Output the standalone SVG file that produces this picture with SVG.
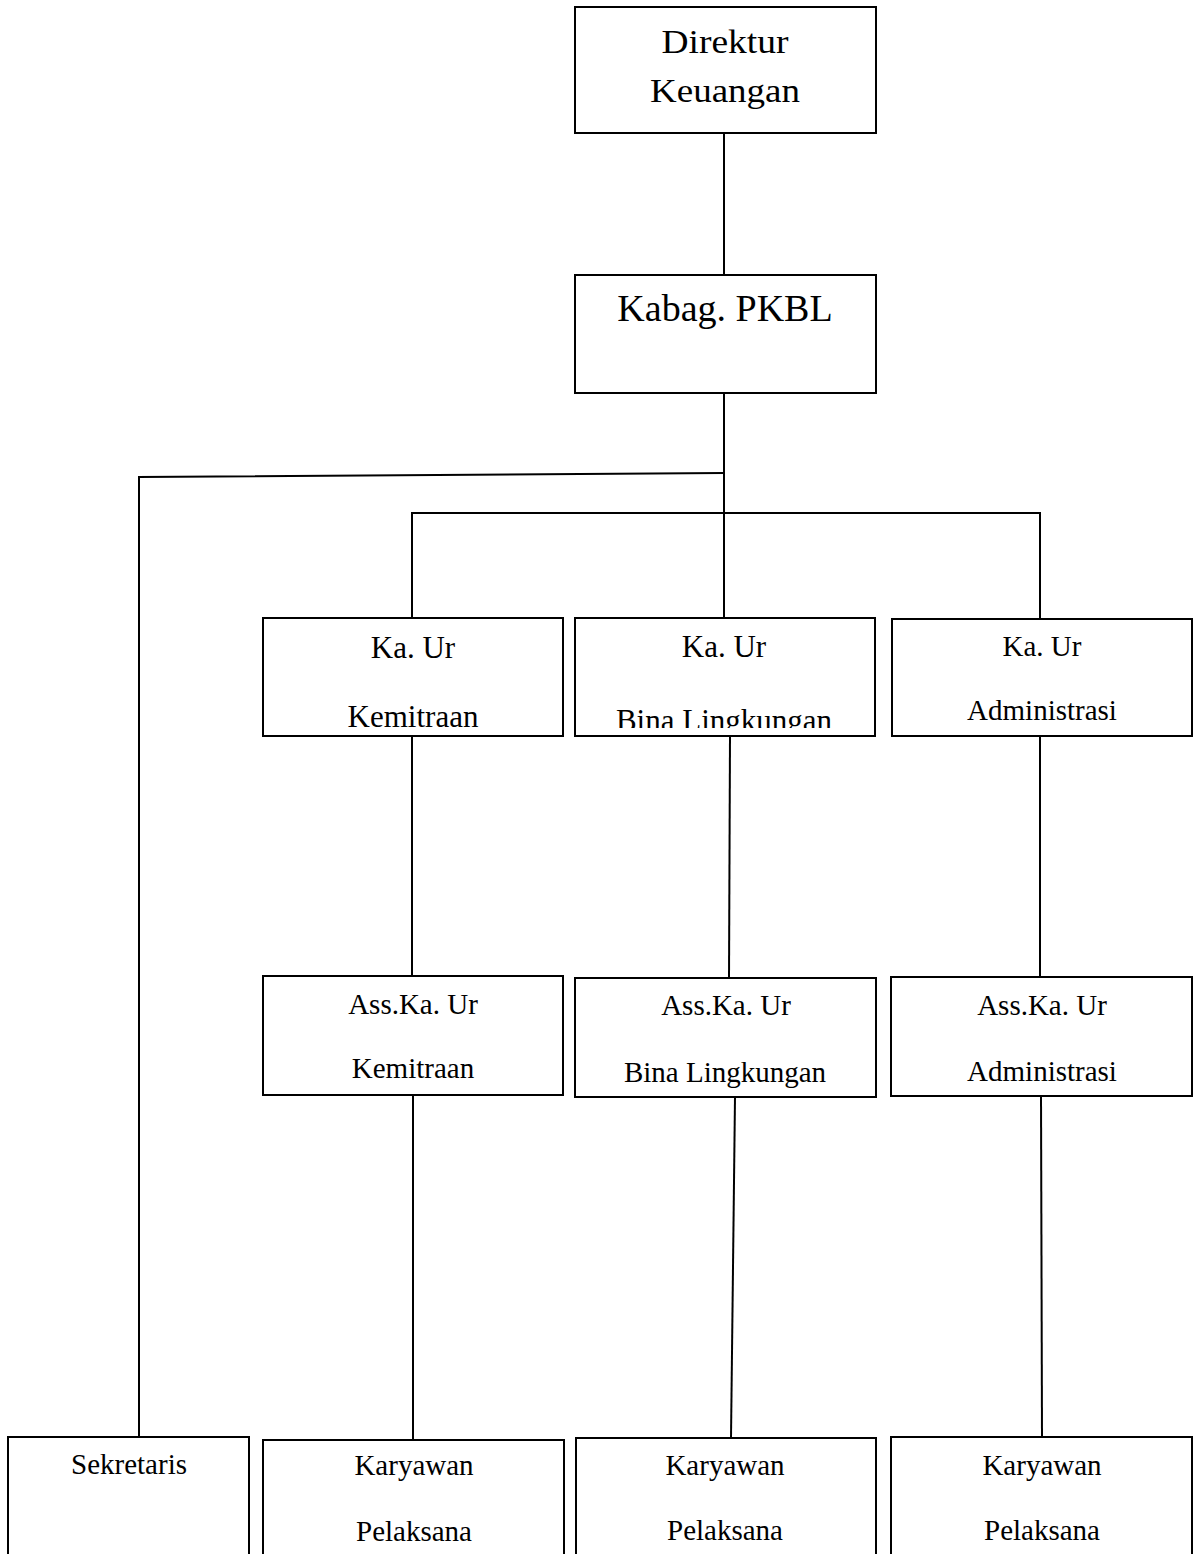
<svg xmlns="http://www.w3.org/2000/svg" width="1200" height="1554" viewBox="0 0 1200 1554">
<style>
  .box { fill: #ffffff; stroke: #000000; stroke-width: 2; }
  .ln { fill: none; stroke: #000000; stroke-width: 2; }
  text { font-family: "Liberation Serif", "Times New Roman", serif; fill: #000000; text-anchor: middle; }
  .t1 { font-size: 34px; }
  .t2 { font-size: 38px; }
  .t3 { font-size: 31px; }
  .t4 { font-size: 29px; }
</style>
<defs>
  <clipPath id="clipBina">
    <rect x="575" y="618" width="300" height="110"/>
  </clipPath>
</defs>
<rect width="1200" height="1554" fill="#ffffff"/>

<g id="connectors">
  <line class="ln" x1="724" y1="133" x2="724" y2="275"/>
  <line class="ln" x1="724" y1="393" x2="724" y2="619"/>
  <polyline class="ln" points="724,473 139,477 139,1437"/>
  <polyline class="ln" points="412,619 412,513 1040,513 1040,619"/>
  <line class="ln" x1="412" y1="736" x2="412" y2="976"/>
  <line class="ln" x1="413" y1="1095" x2="413" y2="1440"/>
  <line class="ln" x1="730" y1="736" x2="729" y2="978"/>
  <line class="ln" x1="735" y1="1097" x2="731" y2="1438"/>
  <line class="ln" x1="1040" y1="736" x2="1040" y2="977"/>
  <line class="ln" x1="1041" y1="1096" x2="1042" y2="1437"/>
</g>

<g id="node-direktur">
  <rect class="box" x="575" y="7" width="301" height="126"/>
  <text class="t1" x="725" y="53" textLength="127" lengthAdjust="spacingAndGlyphs">Direktur</text>
  <text class="t1" x="725" y="102" textLength="150" lengthAdjust="spacingAndGlyphs">Keuangan</text>
</g>

<g id="node-kabag">
  <rect class="box" x="575" y="275" width="301" height="118"/>
  <text class="t2" x="725" y="321">Kabag. PKBL</text>
</g>

<g id="node-kaur-kemitraan">
  <rect class="box" x="263" y="618" width="300" height="118"/>
  <text class="t3" x="413" y="658">Ka. Ur</text>
  <text class="t3" x="413" y="727">Kemitraan</text>
</g>

<g id="node-kaur-bina">
  <rect class="box" x="575" y="618" width="300" height="118"/>
  <text class="t3" x="724" y="657">Ka. Ur</text>
  <text class="t3" x="724" y="731" clip-path="url(#clipBina)">Bina Lingkungan</text>
</g>

<g id="node-kaur-admin">
  <rect class="box" x="892" y="619" width="300" height="117"/>
  <text class="t4" x="1042" y="656">Ka. Ur</text>
  <text class="t4" x="1042" y="720">Administrasi</text>
</g>

<g id="node-ass-kemitraan">
  <rect class="box" x="263" y="976" width="300" height="119"/>
  <text class="t4" x="413" y="1014">Ass.Ka. Ur</text>
  <text class="t4" x="413" y="1078">Kemitraan</text>
</g>

<g id="node-ass-bina">
  <rect class="box" x="575" y="978" width="301" height="119"/>
  <text class="t4" x="726" y="1015">Ass.Ka. Ur</text>
  <text class="t4" x="725" y="1082">Bina Lingkungan</text>
</g>

<g id="node-ass-admin">
  <rect class="box" x="891" y="977" width="301" height="119"/>
  <text class="t4" x="1042" y="1015">Ass.Ka. Ur</text>
  <text class="t4" x="1042" y="1081">Administrasi</text>
</g>

<g id="node-sekretaris">
  <rect class="box" x="8" y="1437" width="241" height="130"/>
  <text class="t4" x="129" y="1474">Sekretaris</text>
</g>

<g id="node-karyawan-1">
  <rect class="box" x="263" y="1440" width="301" height="130"/>
  <text class="t4" x="414" y="1475">Karyawan</text>
  <text class="t4" x="414" y="1541">Pelaksana</text>
</g>

<g id="node-karyawan-2">
  <rect class="box" x="576" y="1438" width="300" height="130"/>
  <text class="t4" x="725" y="1475">Karyawan</text>
  <text class="t4" x="725" y="1540">Pelaksana</text>
</g>

<g id="node-karyawan-3">
  <rect class="box" x="891" y="1437" width="301" height="130"/>
  <text class="t4" x="1042" y="1475">Karyawan</text>
  <text class="t4" x="1042" y="1540">Pelaksana</text>
</g>
</svg>
